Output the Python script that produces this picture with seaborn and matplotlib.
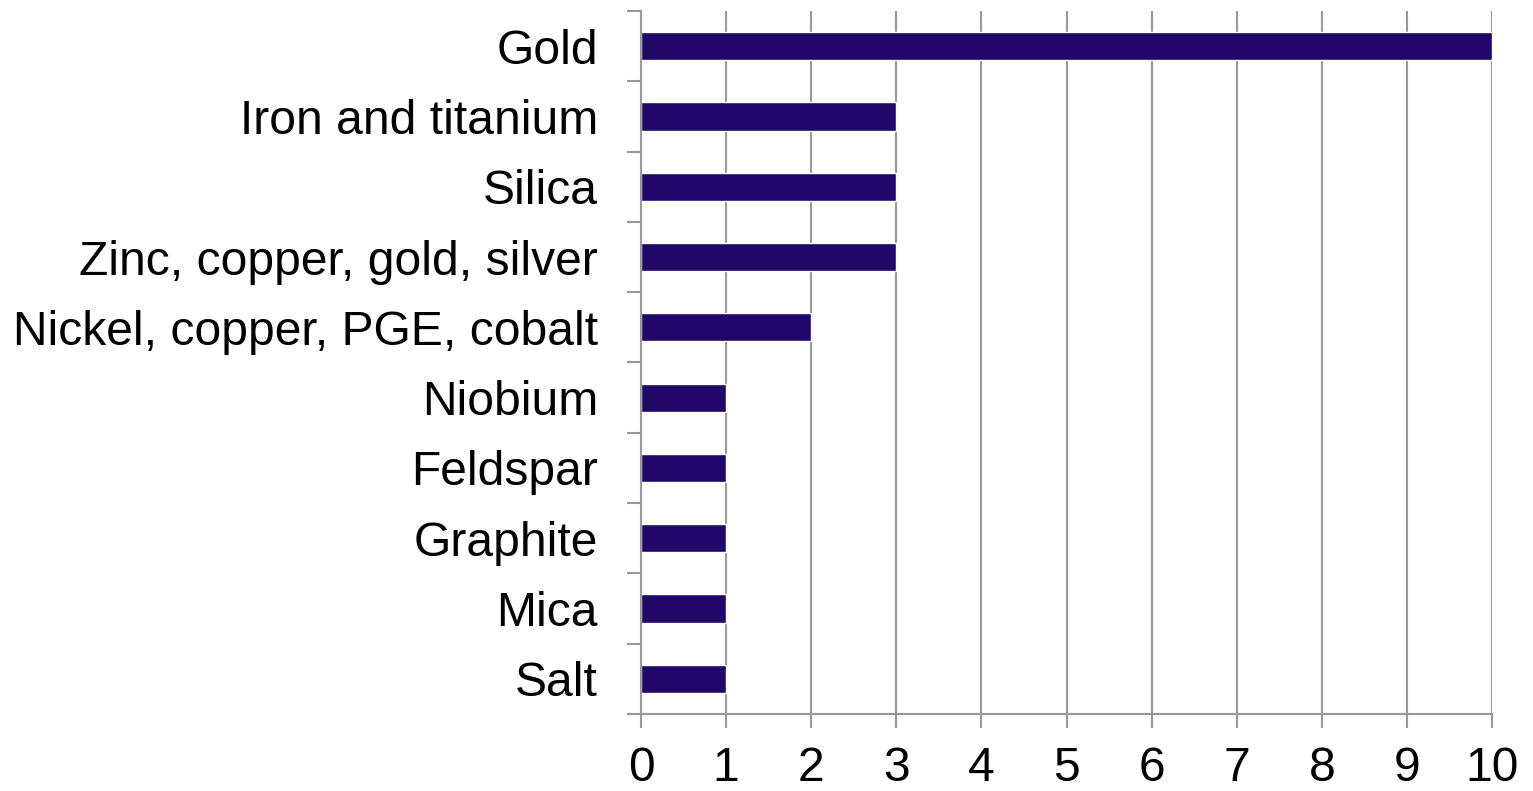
import matplotlib
matplotlib.use("Agg")
import matplotlib.pyplot as plt
import seaborn as sns
import pandas as pd
import numpy as np
from matplotlib.ticker import FixedLocator

categories = ["Gold", "Iron and titanium", "Silica", "Zinc, copper, gold, silver",
              "Nickel, copper, PGE, cobalt", "Niobium", "Feldspar", "Graphite", "Mica", "Salt"]
values = [10, 3, 3, 3, 2, 1, 1, 1, 1, 1]
x_ticks = [0, 1, 2, 3, 4, 5, 6, 7, 8, 9, 10]

sns.set_theme(style="white")
plt.rcParams['font.family'] = ['Liberation Sans', 'DejaVu Sans']

df = pd.DataFrame({"category": categories, "value": values})

fig = plt.figure(figsize=(15.33, 7.91), dpi=100)
ax = fig.add_axes([641/1533, 1 - 714/791, (1492 - 641)/1533, (714 - 11)/791])

sns.barplot(data=df, y="category", x="value", orient="h", color="#20086A",
            width=0.4, ax=ax, saturation=1)

grey = "#999999"
n = len(categories)
ax.set_xlim(0, 10)
ax.set_ylim(n - 0.5, -0.5)
ax.set_xticks(x_ticks)
ax.set_xticklabels([str(t) for t in x_ticks])
ax.grid(axis="x", color=grey, linewidth=1.5)
ax.grid(axis="y", visible=False)
ax.set_axisbelow(True)

for s in ["top", "right"]:
    ax.spines[s].set_visible(False)
for s in ["left", "bottom"]:
    ax.spines[s].set_color(grey)
    ax.spines[s].set_linewidth(1.5)

ax.yaxis.set_minor_locator(FixedLocator(np.arange(-0.5, n, 1.0)))
ax.tick_params(axis="y", which="major", length=0, pad=31, labelsize=34.6, colors="black")
ax.tick_params(axis="y", which="minor", left=True, length=10, width=1.5, color=grey)
ax.tick_params(axis="x", which="major", bottom=True, length=10, width=1.5, color=grey,
               pad=13, labelsize=34.6, labelcolor="black")
ax.set_xlabel("")
ax.set_ylabel("")

fig.savefig("out.png", dpi=100)
